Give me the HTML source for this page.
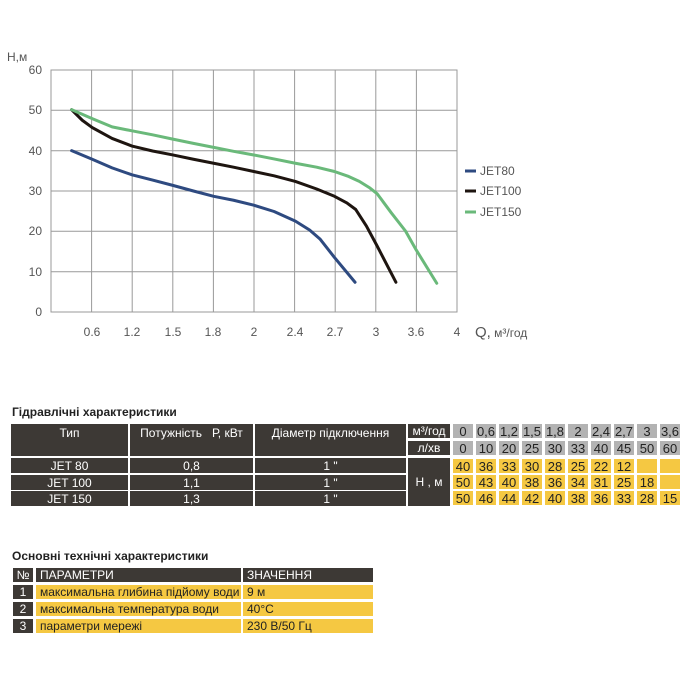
<!DOCTYPE html>
<html><head><meta charset="utf-8"><style>
body{margin:0;width:700px;height:700px;background:#fff;position:relative;overflow:hidden;font-family:"Liberation Sans Narrow","Liberation Sans",sans-serif;}
.c{position:absolute;display:flex;align-items:center;justify-content:center;font-size:12px;box-sizing:border-box;white-space:nowrap;}
.d{background:#3d3935;color:#fff;}
.g{background:#b3b3b3;color:#222;font-size:13px;}
.y{background:#f5c842;color:#222;font-size:13px;}
.t{position:absolute;font-weight:bold;font-size:12px;color:#222;font-family:"Liberation Sans Narrow","Liberation Sans",sans-serif;}
</style></head><body>
<svg width="700" height="400" style="position:absolute;left:0;top:0" font-family="Liberation Sans Narrow, Liberation Sans, sans-serif">
<g stroke="#999" stroke-width="1" fill="none">
<rect x="51" y="70" width="406" height="242"/>
<path d="M91.6 70V312M132.2 70V312M172.8 70V312M213.4 70V312M254 70V312M294.6 70V312M335.2 70V312M375.8 70V312M416.4 70V312"/>
<path d="M51 110.3H457M51 150.7H457M51 191H457M51 231.3H457M51 271.7H457"/>
</g>
<g font-size="12" fill="#555" text-anchor="end">
<text x="42" y="74">60</text><text x="42" y="114">50</text><text x="42" y="155">40</text><text x="42" y="195">30</text><text x="42" y="235">20</text><text x="42" y="276">10</text><text x="42" y="316">0</text>
</g>
<text x="7" y="61" font-size="12" fill="#555">Н,м</text>
<g font-size="12" fill="#555" text-anchor="middle">
<text x="92" y="336">0.6</text><text x="132" y="336">1.2</text><text x="173" y="336">1.5</text><text x="213" y="336">1.8</text><text x="254" y="336">2</text><text x="295" y="336">2.4</text><text x="335" y="336">2.7</text><text x="376" y="336">3</text><text x="416" y="336">3.6</text><text x="457" y="336">4</text>
</g>
<text x="475" y="337" font-size="15" fill="#555">Q,<tspan font-size="12"> м³/год</tspan></text>
<g transform="translate(51 70) scale(0.3552 0.3306) translate(-142 -88)" fill="none" stroke-width="3" stroke-linejoin="round" stroke-linecap="round">
<polyline vector-effect="non-scaling-stroke" stroke="#2e4a80" points="200,332 258,358 314,384 370,405 428,421 485,437 543,454 600,470 656,482 713,497 770,516 830,545 870,572 900,600 940,655 998,730"/>
<polyline vector-effect="non-scaling-stroke" stroke="#1e1510" points="200,208 230,240 258,262 314,295 370,318 428,333 485,345 543,358 600,370 656,382 713,395 770,408 830,425 890,448 940,470 975,490 1000,510 1030,560 1060,620 1113,730"/>
<polyline vector-effect="non-scaling-stroke" stroke="#6ab97a" points="200,208 258,235 314,260 370,272 428,284 485,297 543,310 600,322 656,334 713,345 770,357 830,370 890,382 940,395 980,410 1010,425 1040,445 1060,462 1100,520 1140,575 1170,632 1228,733"/>
</g>
<g stroke-width="3">
<line x1="465" y1="171" x2="476" y2="171" stroke="#2e4a80"/>
<line x1="465" y1="191" x2="476" y2="191" stroke="#1e1510"/>
<line x1="465" y1="212" x2="476" y2="212" stroke="#6ab97a"/>
</g>
<g font-size="12" fill="#555"><text x="480" y="175">JET80</text><text x="480" y="195">JET100</text><text x="480" y="216">JET150</text></g>
</svg>

<div class="t" style="left:12px;top:405px">Гідравлічні характеристики</div>
<div class="c d" style="left:11px;top:424px;width:117px;height:32px;align-items:flex-start;padding-top:2px">Тип</div>
<div class="c d" style="left:130px;top:424px;width:123px;height:32px;align-items:flex-start;padding-top:2px">Потужність &nbsp; Р, кВт</div>
<div class="c d" style="left:255px;top:424px;width:151px;height:32px;align-items:flex-start;padding-top:2px">Діаметр підключення</div>
<div class="c d" style="left:408px;top:424px;width:42px;height:14px">м³/год</div>
<div class="c d" style="left:408px;top:441px;width:42px;height:14px">л/хв</div>
<div class="c d" style="left:11px;top:458px;width:117px;height:15px">JET 80</div>
<div class="c d" style="left:130px;top:458px;width:123px;height:15px">0,8</div>
<div class="c d" style="left:255px;top:458px;width:151px;height:15px">1 "</div>
<div class="c d" style="left:11px;top:475px;width:117px;height:15px">JET 100</div>
<div class="c d" style="left:130px;top:475px;width:123px;height:15px">1,1</div>
<div class="c d" style="left:255px;top:475px;width:151px;height:15px">1 "</div>
<div class="c d" style="left:11px;top:491px;width:117px;height:15px">JET 150</div>
<div class="c d" style="left:130px;top:491px;width:123px;height:15px">1,3</div>
<div class="c d" style="left:255px;top:491px;width:151px;height:15px">1 "</div>
<div class="c d" style="left:408px;top:458px;width:42px;height:48px">Н , м</div>
<div id="grid"></div>
<script>
var q=["0","0,6","1,2","1,5","1,8","2","2,4","2,7","3","3,6"],l=["0","10","20","25","30","33","40","45","50","60"],
r=[["40","36","33","30","28","25","22","12","",""],["50","43","40","38","36","34","31","25","18",""],["50","46","44","42","40","38","36","33","28","15"]];
var h="";
for(var i=0;i<10;i++){var x=453+i*23;
h+='<div class="c g" style="left:'+x+'px;top:424px;width:20px;height:14px">'+q[i]+'</div>';
h+='<div class="c g" style="left:'+x+'px;top:441px;width:20px;height:14px">'+l[i]+'</div>';
var ys=[459,475,491];
for(var j=0;j<3;j++)h+='<div class="c y" style="left:'+x+'px;top:'+ys[j]+'px;width:20px;height:14px">'+r[j][i]+'</div>';}
document.getElementById("grid").innerHTML=h;
</script>

<div class="t" style="left:12px;top:549px">Основні технічні характеристики</div>
<div class="c d" style="left:13px;top:568px;width:20px;height:14px">№</div>
<div class="c d" style="left:36px;top:568px;width:205px;height:14px;justify-content:flex-start;padding-left:4px">ПАРАМЕТРИ</div>
<div class="c d" style="left:243px;top:568px;width:130px;height:14px;justify-content:flex-start;padding-left:4px">ЗНАЧЕННЯ</div>
<div class="c d" style="left:13px;top:585px;width:20px;height:14px">1</div>
<div class="c y" style="left:36px;top:585px;width:205px;height:14px;justify-content:flex-start;padding-left:4px;font-size:12px">максимальна глибина підйому води</div>
<div class="c y" style="left:243px;top:585px;width:130px;height:14px;justify-content:flex-start;padding-left:4px;font-size:12px">9 м</div>
<div class="c d" style="left:13px;top:602px;width:20px;height:14px">2</div>
<div class="c y" style="left:36px;top:602px;width:205px;height:14px;justify-content:flex-start;padding-left:4px;font-size:12px">максимальна температура води</div>
<div class="c y" style="left:243px;top:602px;width:130px;height:14px;justify-content:flex-start;padding-left:4px;font-size:12px">40°C</div>
<div class="c d" style="left:13px;top:619px;width:20px;height:14px">3</div>
<div class="c y" style="left:36px;top:619px;width:205px;height:14px;justify-content:flex-start;padding-left:4px;font-size:12px">параметри мережі</div>
<div class="c y" style="left:243px;top:619px;width:130px;height:14px;justify-content:flex-start;padding-left:4px;font-size:12px">230 В/50 Гц</div>
</body></html>
